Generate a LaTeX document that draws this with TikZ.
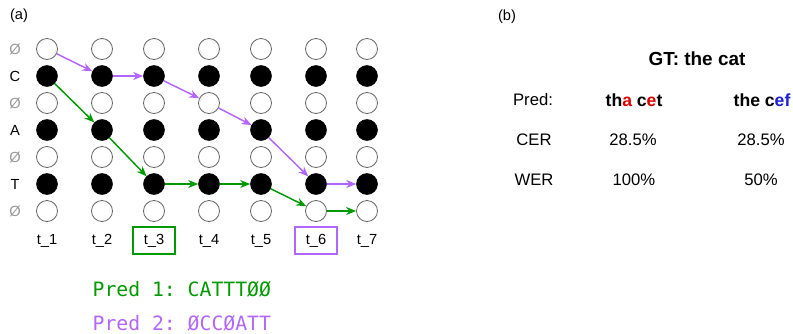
\documentclass[tikz,border=0pt]{standalone}
\usepackage{fontspec}
\setmainfont{Liberation Sans}
\setmonofont{DejaVu Sans Mono}
\usetikzlibrary{positioning, arrows.meta}
\definecolor{ctcgreen}{RGB}{0,153,0}
\definecolor{ctcpurple}{RGB}{178,102,255}
\definecolor{errred}{RGB}{220,0,0}
\definecolor{errblue}{RGB}{30,30,220}
\tikzset{
  x=0.75pt, y=-0.75pt,
  >={Stealth[length=7.5pt, width=6pt]},
  blank/.style={circle, draw=black!60, fill=white, minimum size=15.75pt, inner sep=0pt, line width=0.6pt},
  token/.style={circle, draw=black, fill=black, minimum size=15.75pt, inner sep=0pt},
  rowlab/.style={font=\fontsize{11}{13}\selectfont},
  steplab/.style={font=\fontsize{11}{13}\selectfont, minimum width=30.75pt, minimum height=20.25pt, inner sep=0pt},
  green path/.style={->, ctcgreen, line width=1.1pt},
  purple path/.style={->, ctcpurple, line width=1.1pt},
  tab/.style={font=\fontsize{12.5}{15}\selectfont},
}

\begin{document}
\begin{tikzpicture}
        \useasboundingbox (0,0) rectangle (793,333);

        % panel (a)
        \node[rowlab] (a) at (19,16) {(a)};

        % row labels
        \foreach \r/\l in {0/\textcolor{black!40}{Ø}, 1/C, 2/\textcolor{black!40}{Ø}, 3/A, 4/\textcolor{black!40}{Ø}, 5/T, 6/\textcolor{black!40}{Ø}}
          \node[rowlab] (lab-\r) at (15,49+27*\r) {\l};

        % lattice
        \foreach \c/\x in {1/47, 2/102, 3/154, 4/209, 5/261, 6/316, 7/367} {
          \foreach \r in {0,2,4,6}
            \node[blank] (n-\c-\r) at (\x,49+27*\r) {};
          \foreach \r in {1,3,5}
            \node[token] (n-\c-\r) at (\x,49+27*\r) {};
          \node[steplab] (t-\c) at (\x,240.5) {t\_\c};
        }

        % chosen steps
        \draw[ctcgreen, line width=1.2pt] (t-3.south west) rectangle (t-3.north east);
        \draw[ctcpurple, line width=1.2pt] (t-6.south west) rectangle (t-6.north east);

        % paths
        \draw[purple path] (n-1-0) -- (n-2-1);
        \draw[purple path] (n-2-1) -- (n-3-1);
        \draw[purple path] (n-3-1) -- (n-4-2);
        \draw[purple path] (n-4-2) -- (n-5-3);
        \draw[purple path] (n-5-3) -- (n-6-5);
        \draw[purple path] (n-6-5) -- (n-7-5);

        \draw[green path] (n-1-1) -- (n-2-3);
        \draw[green path] (n-2-3) -- (n-3-5);
        \draw[green path] (n-3-5) -- (n-4-5);
        \draw[green path] (n-4-5) -- (n-5-5);
        \draw[green path] (n-5-5) -- (n-6-6);
        \draw[green path] (n-6-6) -- (n-7-6);

        % predictions
        \node[anchor=west, ctcgreen, font=\ttfamily\fontsize{14.8}{17}\selectfont] (pred1) at (88,289) {Pred 1: CATTTØØ};
        \node[anchor=west, ctcpurple, font=\ttfamily\fontsize{14.8}{17}\selectfont] (pred2) at (88,323) {Pred 2: ØCCØATT};

        % panel (b)
        \node[rowlab] (b) at (507,17) {(b)};
        \node[font=\bfseries\fontsize{14.2}{17}\selectfont] (gt) at (697,59) {GT: the cat};

        \node[tab] (pred) at (533,100) {Pred:};
        \node[tab, font=\bfseries\fontsize{13.2}{15}\selectfont] (p1) at (634,100) {th\textcolor{errred}{a} c\textcolor{errred}{e}t};
        \node[tab, font=\bfseries\fontsize{13.2}{15}\selectfont] (p2) at (762,100) {the c\textcolor{errblue}{ef}};

        \node[tab] (cer) at (534,140) {CER};
        \node[tab] (cer1) at (633,140) {28.5\%};
        \node[tab] (cer2) at (761,140) {28.5\%};

        \node[tab] (wer) at (534,180) {WER};
        \node[tab] (wer1) at (634,180) {100\%};
        \node[tab] (wer2) at (761,180) {50\%};
\end{tikzpicture}
\end{document}
